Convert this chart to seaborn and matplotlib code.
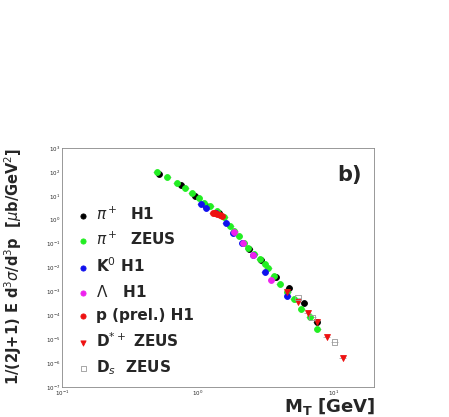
import matplotlib
matplotlib.use("Agg")
import matplotlib.pyplot as plt
import matplotlib.ticker as mt
import seaborn as sns
import numpy as np
import pandas as pd

sns.set_theme(style="white")
plt.rcParams['font.family'] = ['DejaVu Sans']

pi_zeus_x = [0.50,0.60,0.70,0.81,0.91,1.02,1.12,1.24,1.40,1.57,1.74,1.86,2.02,2.20,2.37,2.61,2.89,3.13,3.31,3.66,4.05,4.59,5.14,5.82,6.73,7.63]
pi_zeus_y = [100,62,36,21,13,8.5,5.2,3.6,2.3,1.36,0.55,0.34,0.20,0.11,0.068,0.038,0.022,0.0137,0.0091,0.0045,0.0020,9.8e-4,4.7e-4,1.8e-4,8.1e-5,2.8e-5]
pi_h1_x = [0.52,0.75,0.96,1.15,1.44,2.40,2.92,3.77,4.72,6.08,7.54]
pi_h1_y = [79,28,10,3.8,2.0,0.058,0.020,0.0041,0.0014,3.4e-4,5.2e-5]
k0_x = [1.06,1.16,1.36,1.61,1.84,2.14,2.58,3.13,4.59]
k0_y = [4.5,3.0,2.0,0.71,0.29,0.104,0.032,0.0066,6.5e-4]
lam_x = [1.86,2.18,2.58,3.50]
lam_y = [0.32,0.11,0.032,0.0030]
p_x = [1.29,1.34,1.40,1.46,1.51]
p_y = [2.0,1.9,1.7,1.6,1.45]
dstar_x = [4.59,5.49,6.51,7.54,9.0,11.8]
dstar_y = [9.8e-4,3.6e-4,1.3e-4,5.0e-5,1.2e-5,1.7e-6]
ds_x = [5.49,7.0,10.2]
ds_y = [5.5e-4,8.1e-5,7.8e-6]

series = [
    (r"$\pi^+$  H1", pi_h1_x, pi_h1_y, "black", "o", "black"),
    (r"$\pi^+$  ZEUS", pi_zeus_x, pi_zeus_y, "#22ee22", "o", "#22ee22"),
    (r"K$^0$ H1", k0_x, k0_y, "#1010ee", "o", "#1010ee"),
    (r"$\Lambda$   H1", lam_x, lam_y, "#ee22ee", "o", "#ee22ee"),
    ("p (prel.) H1", p_x, p_y, "#ee1111", "o", "#ee1111"),
    (r"D$^{*+}$ ZEUS", dstar_x, dstar_y, "#ee1111", "v", "#ee1111"),
    (r"D$_s$  ZEUS", ds_x, ds_y, "none", "s", "#999999"),
]

fig = plt.figure(figsize=(4.49, 4.17), dpi=100)
ax = fig.add_axes([0.138, 0.072, 0.695, 0.573])
handles = []
for lab, xs, ys, fc, m, ec in series:
    xs = np.array(xs); ys = np.array(ys)
    ax.errorbar(xs, ys, xerr=0.06*xs, fmt="none", ecolor="#aaaaaa", lw=0.6, zorder=1)
    df = pd.DataFrame({"x": xs, "y": ys})
    sns.scatterplot(data=df, x="x", y="y", ax=ax, marker=m, s=18 if m != "s" else 16,
                    facecolor=fc, edgecolor=ec, linewidth=0.6, zorder=3, legend=False)
    h = ax.scatter([], [], marker=m, s=14, facecolor=fc, edgecolor=ec, linewidth=0.6)
    handles.append((h, lab))

ax.set_xscale("log"); ax.set_yscale("log")
ax.set_xlim(0.1, 20); ax.set_ylim(1e-7, 1e3)
ax.yaxis.set_major_locator(mt.LogLocator(base=10, numticks=20))
ax.yaxis.set_minor_locator(mt.LogLocator(base=10, subs=np.arange(2, 10), numticks=20))
ax.set_xlabel(""); ax.set_ylabel("")
ax.tick_params(axis="both", which="both", direction="in", labelsize=4, length=3, pad=1)
ax.tick_params(which="minor", length=1.5)
for s in ax.spines.values():
    s.set_linewidth(0.6); s.set_color("#888888")
ax.legend([h for h, _ in handles], [l for _, l in handles], loc="center left",
          bbox_to_anchor=(0.0, 0.4), frameon=False, prop={"weight": "bold", "size": 11},
          handletextpad=0.3, labelspacing=0.55, handlelength=1.0)
ax.text(0.96, 0.93, "b)", transform=ax.transAxes, ha="right", va="top", fontsize=15, weight="bold")
fig.text(0.835, 0.0, r"$\mathbf{M_T}$ [GeV]", ha="right", va="bottom", fontsize=13, weight="bold")
fig.text(0.03, 0.36, r"1/(2J+1) E d$^3\sigma$/d$^3$p  [$\mu$b/GeV$^2$]", rotation=90,
         ha="center", va="center", fontsize=10.5, weight="bold")
fig.savefig("out.png", dpi=100, facecolor="white")
